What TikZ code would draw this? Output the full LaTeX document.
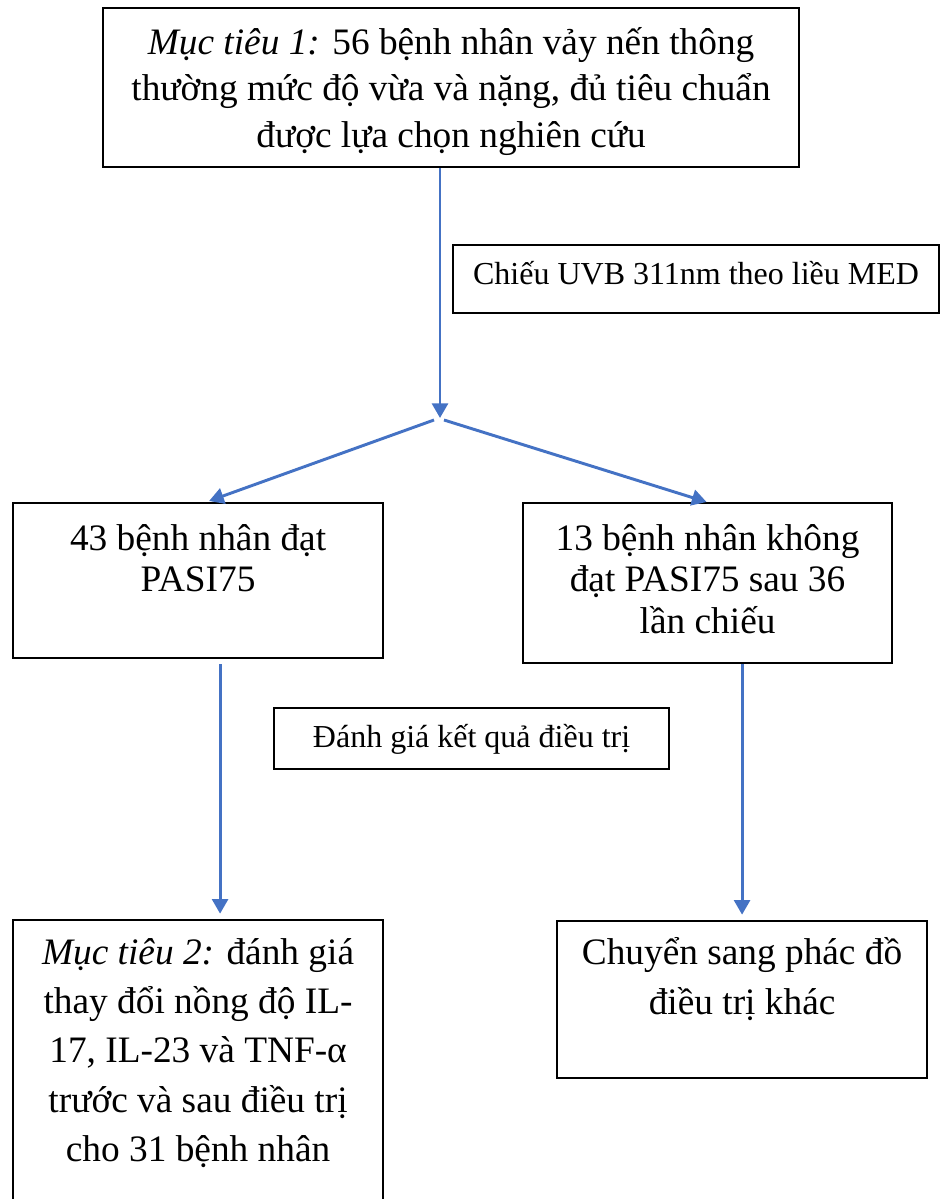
\documentclass[tikz,border=0pt]{standalone}
\usepackage{fontspec}
\setmainfont{Liberation Serif}
\usetikzlibrary{arrows.meta,calc,positioning}
\definecolor{arrblue}{HTML}{4472C4}

\begin{document}
\begin{tikzpicture}
[   x=0.75pt, y=-0.75pt,
    bnode/.style={draw=black, line width=1.6pt, inner sep=0pt, align=flush center, anchor=north west},
    arr/.style={draw=arrblue, line width=2.2pt, -{Triangle[width=12pt,length=11pt]}},
]
    \clip (0,0) rectangle (942,1199);

    \node[bnode, text width=522pt, text height=34.5pt, text depth=84.75pt,
          font=\fontsize{28}{35}\selectfont] (goal1) at (102,7)
          {\textit{Mục tiêu 1:} 56 bệnh nhân vảy nến thông\\ thường mức độ vừa và nặng, đủ tiêu chuẩn\\ được lựa chọn nghiên cứu};
    \node[bnode, text width=364.5pt, text height=29.25pt, text depth=21.75pt,
          font=\fontsize{24}{29}\selectfont] (uvb) at (452,244)
          {Chiếu UVB 311nm theo liều MED};

    \node[bnode, text width=277.5pt, text height=35.25pt, text depth=81pt,
          font=\fontsize{28}{30.75}\selectfont] (pass) at (12,502)
          {43 bệnh nhân đạt\\ PASI75};
    \node[bnode, text width=276.75pt, text height=35.25pt, text depth=84.75pt,
          font=\fontsize{28}{31.1}\selectfont] (fail) at (522,502)
          {13 bệnh nhân không\\ đạt PASI75 sau 36\\ lần chiếu};

    \node[bnode, text width=296.25pt, text height=29.25pt, text depth=16.5pt,
          font=\fontsize{24}{29}\selectfont] (eval) at (273,707)
          {Đánh giá kết quả điều trị};

    \node[bnode, text width=277.5pt, text height=33pt, text depth=189pt,
          font=\fontsize{28}{37}\selectfont] (goal2) at (12,919)
          {\textit{Mục tiêu 2:} đánh giá\\ thay đổi nồng độ IL-\\ 17, IL-23 và TNF-α\\ trước và sau điều trị\\ cho 31 bệnh nhân};
    \node[bnode, text width=277.5pt, text height=32.25pt, text depth=85.5pt,
          font=\fontsize{28}{37.5}\selectfont] (other) at (556,920)
          {Chuyển sang phác đồ\\ điều trị khác};

    \coordinate (split) at (440,418);
    \draw[arr] (goal1.south -| split) -- (split);
    \draw[arr] ($(split)+(-6,2)$) -- ($(pass.north)+(11,-1)$);
    \draw[arr] ($(split)+(4,2)$) -- ($(fail.north)+(-1,0)$);
    \draw[arr, shorten <=4pt, shorten >=4pt] ($(pass.south)+(22,0)$) -- ($(goal2.north)+(22,0)$);
    \draw[arr, shorten >=4pt] (other.north |- fail.south) -- (other.north);
\end{tikzpicture}
\end{document}
